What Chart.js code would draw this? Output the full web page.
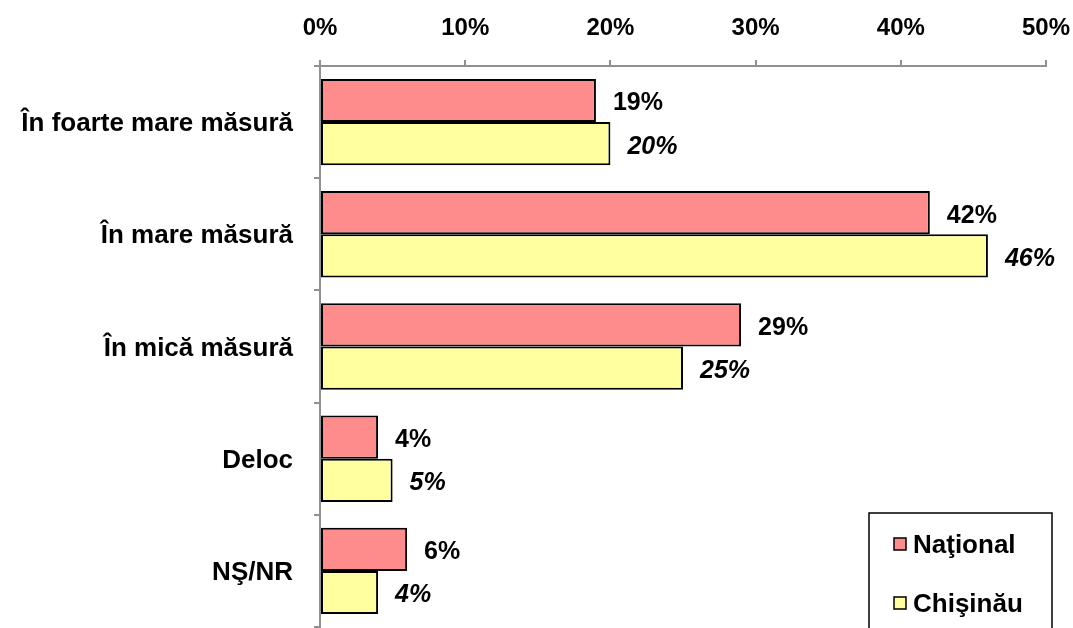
<!DOCTYPE html>
<html>
<head>
<meta charset="utf-8">
<script src="https://cdn.jsdelivr.net/npm/chart.js@4/dist/chart.umd.min.js"></script>
<style>
html,body{margin:0;padding:0;background:#fff;}
canvas{display:block;}
</style>
</head>
<body>
<canvas id="c" width="1073" height="628"></canvas>
<script>
const categories = ["În foarte mare măsură", "În mare măsură", "În mică măsură", "Deloc", "NŞ/NR"];
const nationalValues = [19, 42, 29, 4, 6];
const chisinauValues = [20, 46, 25, 5, 4];
const seriesNames = ["Naţional", "Chişinău"];
const tickValues = [0, 10, 20, 30, 40, 50];

const FONT = '"Liberation Sans", Arial, sans-serif';

const labelsPlugin = {
  id: 'labelsAndLegend',
  afterDatasetsDraw(chart) {
    const ctx = chart.ctx;
    ctx.save();
    ctx.fillStyle = '#000';
    ctx.textBaseline = 'middle';
    ctx.textAlign = 'left';
    chart.data.datasets.forEach((ds, di) => {
      const meta = chart.getDatasetMeta(di);
      ctx.font = (di === 1 ? 'italic ' : '') + 'bold 25px ' + FONT;
      meta.data.forEach((bar, i) => {
        ctx.fillText(ds.data[i] + '%', bar.x + 17, bar.y + 3);
      });
    });
    // legend box
    const lx = 869, ly = 513, lw = 183, lh = 130;
    ctx.fillStyle = '#fff';
    ctx.fillRect(lx, ly, lw, lh);
    ctx.strokeStyle = '#000';
    ctx.lineWidth = 1.5;
    ctx.strokeRect(lx, ly, lw, lh);
    const rows = [544, 603];
    chart.data.datasets.forEach((ds, di) => {
      const y = rows[di];
      ctx.fillStyle = ds.backgroundColor;
      ctx.fillRect(894, y - 6, 12, 12);
      ctx.lineWidth = 1.5;
      ctx.strokeStyle = '#000';
      ctx.strokeRect(894, y - 6, 12, 12);
      ctx.fillStyle = '#000';
      ctx.font = 'bold 26px ' + FONT;
      ctx.textBaseline = 'middle';
      ctx.fillText(ds.label, 913, y + 2);
    });
    ctx.restore();
  }
};

new Chart(document.getElementById('c'), {
  type: 'bar',
  data: {
    labels: categories,
    datasets: [
      { label: seriesNames[0], data: nationalValues, backgroundColor: '#FF8C8C', borderColor: '#000', borderWidth: 2, borderSkipped: false },
      { label: seriesNames[1], data: chisinauValues, backgroundColor: '#FFFFA0', borderColor: '#000', borderWidth: 2, borderSkipped: false }
    ]
  },
  options: {
    indexAxis: 'y',
    responsive: false,
    animation: false,
    devicePixelRatio: 1,
    layout: { padding: { left: 0, right: 27, top: 0, bottom: 1 } },
    datasets: { bar: { categoryPercentage: 0.77, barPercentage: 1.0 } },
    plugins: { legend: { display: false }, tooltip: { enabled: false } },
    scales: {
      x: {
        position: 'top',
        min: 0, max: 50,
        afterBuildTicks(scale) { scale.ticks = tickValues.map(v => ({ value: v })); },
        ticks: {
          callback: v => v + '%',
          font: { family: FONT, size: 24, weight: 'bold' },
          color: '#000',
          padding: 17,
          maxRotation: 0
        },
        grid: { drawOnChartArea: false, drawTicks: true, tickLength: 6, color: '#909090', lineWidth: 2 },
        border: { color: '#909090', width: 2 },
        afterFit(scale) { scale.height = 66; scale.paddingLeft = 0; scale.paddingRight = 0; }
      },
      y: {
        ticks: {
          font: { family: FONT, size: 26, weight: 'bold' },
          color: '#000',
          padding: 21,
          labelOffset: 2
        },
        grid: { drawOnChartArea: false, drawTicks: true, tickLength: 6, color: '#909090', lineWidth: 2, offset: true },
        border: { color: '#909090', width: 2 },
        afterFit(scale) { scale.width = 320; scale.paddingTop = 0; scale.paddingBottom = 0; }
      }
    }
  },
  plugins: [labelsPlugin]
});
</script>
</body>
</html>
